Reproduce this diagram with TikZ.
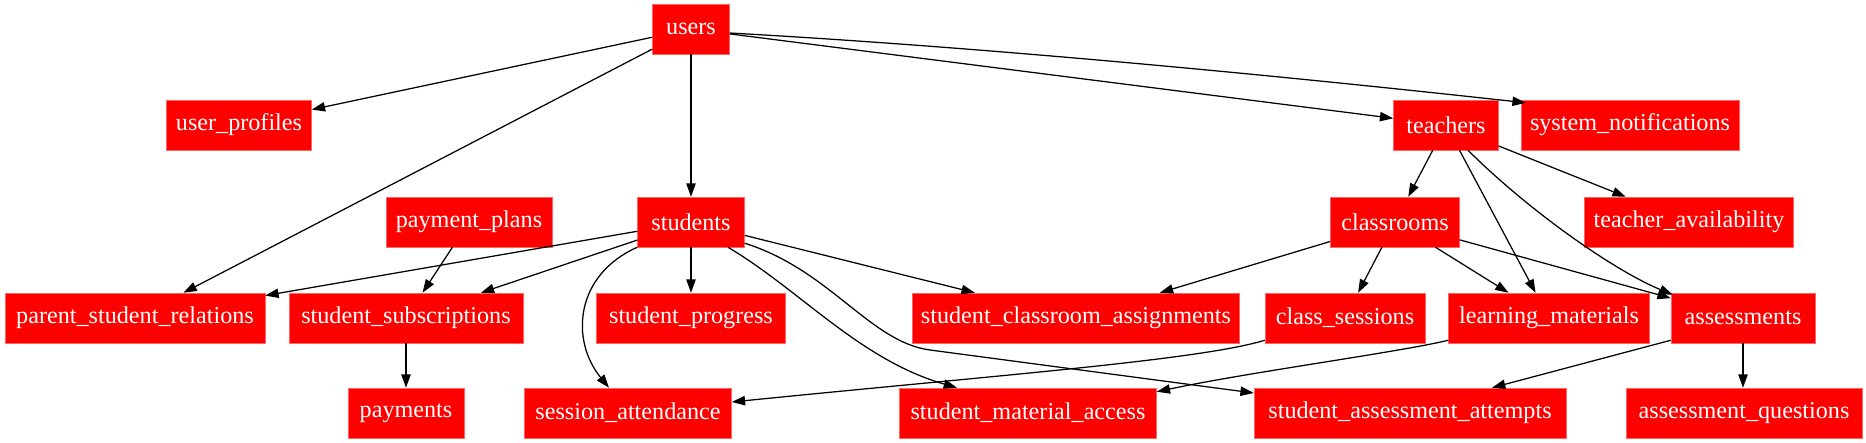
\documentclass[tikz,border=0pt]{standalone}
\usepackage{fontspec}
\setmainfont{Liberation Serif}
\usetikzlibrary{arrows.meta,calc}
\begin{document}
\begin{tikzpicture}[x=0.6pt,y=-0.6pt,
  box/.style={fill=red, draw=red!60, line width=0.3pt, text=white, minimum height=30pt,
    inner sep=0pt, minimum width=#1*0.6pt, font=\fontsize{14.5}{16}\selectfont},
  edge/.style={draw=black, line width=0.75pt, -{Triangle[length=8pt,width=5.6pt]}}]
\useasboundingbox (0,0) rectangle (1866,443);
% row 1
\node[box=77] (users) at (691,29) {users};
% row 2
\node[box=145] (user_profiles) at (239,125) {user\_profiles};
\node[box=105] (teachers) at (1446,125) {teachers};
\node[box=218] (system_notifications) at (1630,125) {system\_notifications};
% row 3
\node[box=166] (payment_plans) at (469,222) {payment\_plans};
\node[box=107] (students) at (691,222) {students};
\node[box=129] (classrooms) at (1395,222) {classrooms};
\node[box=209] (teacher_availability) at (1689,222) {teacher\_availability};
% row 4
\node[box=260] (psr) at (135,318) {parent\_student\_relations};
\node[box=234] (student_subscriptions) at (406,318) {student\_subscriptions};
\node[box=189] (student_progress) at (691,318) {student\_progress};
\node[box=327] (sca) at (1076,318) {student\_classroom\_assignments};
\node[box=160] (class_sessions) at (1345,318) {class\_sessions};
\node[box=201] (learning_materials) at (1549,318) {learning\_materials};
\node[box=144] (assessments) at (1743,318) {assessments};
% row 5
\node[box=116] (payments) at (406,413) {payments};
\node[box=207] (session_attendance) at (628,413) {session\_attendance};
\node[box=257] (sma) at (1028,413) {student\_material\_access};
\node[box=312] (saa) at (1410,413) {student\_assessment\_attempts};
\node[box=236] (assessment_questions) at (1744,413) {assessment\_questions};

% edges from users
\draw[edge] (users) -- (user_profiles);
\draw[edge] (users) -- (psr);
\draw[edge] (users) -- (students);
\draw[edge] (users) -- (teachers);
\draw[edge] ($(users.east)+(0,4)$) .. controls (1000,48) and (1300,78) .. ($(system_notifications.north west)+(5,3)$);
% teachers
\draw[edge] (teachers) -- (classrooms);
\draw[edge] (teachers) -- (teacher_availability);
\draw[edge] (teachers) -- (learning_materials);
\draw[edge] ($(teachers.south)+(22,0)$) .. controls (1528,210) and (1613,270) .. ($(assessments.north west)+(2,2)$);
% classrooms
\draw[edge] (classrooms) -- (sca);
\draw[edge] (classrooms) -- (class_sessions);
\draw[edge] (classrooms) -- (learning_materials);
\draw[edge] (classrooms) -- (assessments);
% payment plans / subscriptions
\draw[edge] (payment_plans) -- (student_subscriptions);
\draw[edge] (student_subscriptions) -- (payments);
% students
\draw[edge] (students) -- (psr);
\draw[edge] (students) -- (student_subscriptions);
\draw[edge] (students) -- (student_progress);
\draw[edge] (students) -- (sca);
\draw[edge] (students.south west) .. controls (575,275) and (570,340) .. ($(session_attendance.north)+(-19,0)$);
\draw[edge] ($(students.south)+(37,0)$) .. controls (800,290) and (860,360) .. ($(sma.north)+(-71,0)$);
\draw[edge] ($(students.south east)+(0,-4)$) .. controls (830,270) and (870,342) .. (930,350) -- ($(saa.west)+(0,-20)$);
% lower crossings
\draw[edge] ($(class_sessions.south west)+(0,-3)$) .. controls (1200,360) and (1000,375) .. ($(session_attendance.east)+(0,-11)$);
\draw[edge] ($(learning_materials.south west)+(0,-3)$) .. controls (1400,352) and (1250,372) .. ($(sma.north east)+(0,4)$);
\draw[edge] ($(assessments.south west)+(0,-3)$) -- ($(saa.north)+(82,0)$);
\draw[edge] (assessments.south) -- (assessments.south |- assessment_questions.north);
\end{tikzpicture}
\end{document}
